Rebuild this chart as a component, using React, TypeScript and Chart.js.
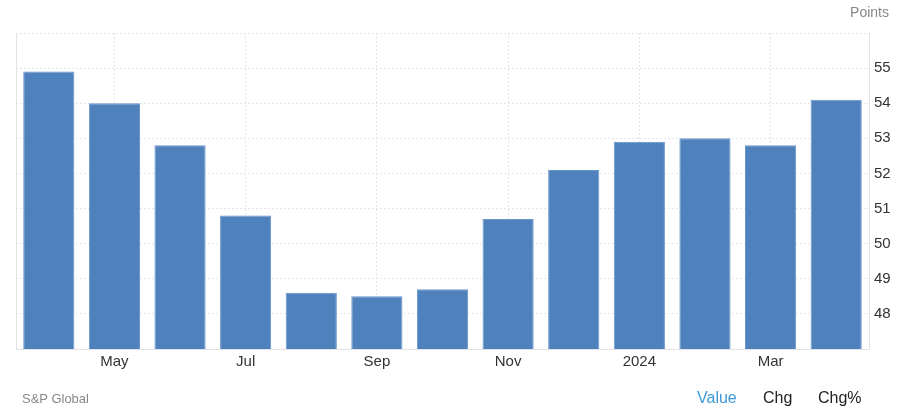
import React, { useRef, useEffect } from 'react';
import { Chart, registerables } from 'chart.js';

Chart.register(...registerables);

// UK composite PMI, Apr 2023 - Apr 2024
const categories = [
  'Apr 2023', 'May 2023', 'Jun 2023', 'Jul 2023', 'Aug 2023', 'Sep 2023', 'Oct 2023',
  'Nov 2023', 'Dec 2023', 'Jan 2024', 'Feb 2024', 'Mar 2024', 'Apr 2024',
];
const tickLabels = ['', 'May', '', 'Jul', '', 'Sep', '', 'Nov', '', '2024', '', 'Mar', ''];
const values = [54.9, 54.0, 52.8, 50.8, 48.6, 48.5, 48.7, 50.7, 52.1, 52.9, 53.0, 52.8, 54.1];
const yMin = 47;
const yMax = 56;

const FONT = '"Liberation Sans", Arial, sans-serif';
const GRID = '#e6e6e6';

// thin line on the left edge of the plot area
const leftEdge = {
  id: 'leftEdge',
  afterDraw(chart: Chart) {
    const { ctx, chartArea } = chart;
    ctx.save();
    ctx.strokeStyle = '#e3e3e3';
    ctx.lineWidth = 1;
    ctx.beginPath();
    ctx.moveTo(chartArea.left + 0.5, chartArea.top);
    ctx.lineTo(chartArea.left + 0.5, chartArea.bottom);
    ctx.stroke();
    ctx.restore();
  },
};

const PmiChart: React.FC = () => {
  const chartRef = useRef<HTMLCanvasElement>(null);
  const chartInstance = useRef<Chart | null>(null);

  useEffect(() => {
    if (!chartRef.current) return;
    if (chartInstance.current) chartInstance.current.destroy();

    const ctx = chartRef.current.getContext('2d');
    if (!ctx) return;

    chartInstance.current = new Chart(ctx, {
      type: 'bar',
      data: {
        labels: categories,
        datasets: [
          {
            data: values,
            backgroundColor: '#4f81bd',
            borderColor: '#6a95c9',
            borderWidth: 1,
            barPercentage: 0.78,
            categoryPercentage: 1,
          },
        ],
      },
      plugins: [leftEdge],
      options: {
        animation: false,
        responsive: false,
        maintainAspectRatio: false,
        layout: { padding: { left: 16, top: 33, right: 0, bottom: 0 } },
        plugins: {
          legend: { display: false },
          tooltip: { enabled: false },
        },
        scales: {
          x: {
            afterFit: (scale: any) => {
              scale.height = 63;
            },
            grid: {
              offset: false,
              drawTicks: false,
              color: (c: any) => (tickLabels[c.index] ? GRID : 'transparent'),
            },
            border: { display: true, color: '#e3e3e3', dash: [2, 2] },
            ticks: {
              autoSkip: false,
              maxRotation: 0,
              padding: 4,
              color: '#333',
              font: { family: FONT, size: 15 },
              callback: (_v: any, i: number) => tickLabels[i],
            },
          },
          y: {
            position: 'right',
            min: yMin,
            max: yMax,
            afterFit: (scale: any) => {
              scale.width = 31;
            },
            grid: { drawTicks: false, color: GRID },
            border: { display: true, color: '#e3e3e3', dash: [2, 2] },
            ticks: {
              stepSize: 1,
              padding: 5,
              color: '#333',
              font: { family: FONT, size: 15 },
              callback: (v: any) => (v === yMin || v === yMax ? '' : String(v)),
            },
          },
        },
      },
    });

    return () => {
      if (chartInstance.current) {
        chartInstance.current.destroy();
        chartInstance.current = null;
      }
    };
  }, []);

  const text = (style: React.CSSProperties, s: string, key?: string) => (
    <div key={key} style={{ position: 'absolute', fontFamily: FONT, whiteSpace: 'nowrap', ...style }}>
      {s}
    </div>
  );

  return (
    <div style={{ position: 'absolute', left: 0, top: 0, width: 900, height: 412, background: '#fff' }}>
      <canvas ref={chartRef} width={900} height={412} style={{ position: 'absolute', left: 0, top: 0 }} />
      {text({ right: 11, top: 4, fontSize: 14, color: '#888' }, 'Points')}
      {text({ left: 22, top: 391, fontSize: 13, color: '#888' }, 'S&P Global')}
      {text({ left: 697, top: 389, fontSize: 16, color: '#3d9ad8' }, 'Value')}
      {text({ left: 763, top: 389, fontSize: 16, color: '#222' }, 'Chg')}
      {text({ left: 818, top: 389, fontSize: 16, color: '#222' }, 'Chg%')}
    </div>
  );
};

export default function App() {
  return <PmiChart />;
}
